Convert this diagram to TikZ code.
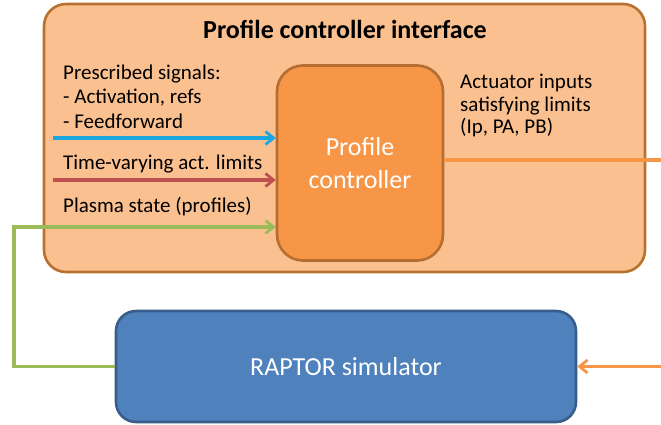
\documentclass[tikz,border=0pt]{standalone}
\usepackage{fontspec}
\setmainfont{Carlito}
\usetikzlibrary{arrows.meta}
\definecolor{ofill}{HTML}{FAC090}
\definecolor{odraw}{HTML}{B9712F}
\definecolor{cfill}{HTML}{F79646}
\definecolor{cdraw}{HTML}{B66D31}
\definecolor{rfill}{HTML}{4F81BD}
\definecolor{rdraw}{HTML}{385D8A}
\definecolor{sigblue}{HTML}{1BA6E0}
\definecolor{sigred}{HTML}{C0504D}
\definecolor{siggreen}{HTML}{9BBB59}
\definecolor{sigorange}{HTML}{F79646}
\begin{document}
\begin{tikzpicture}[x=1pt,y=-1pt,
  box/.style={draw, line width=2.6pt, rounded corners=22pt, inner sep=0pt},
  lbl/.style={anchor=west, inner sep=0pt, align=left, text=black, font=\fontsize{21}{24.5}\selectfont},
  wire/.style={line width=3.2pt},
  tip/.style={-{Straight Barb[length=8pt,width=13pt,line width=2.8pt]}}]
\useasboundingbox (0,0) rectangle (661,424);
\node[box, fill=ofill, draw=odraw, minimum width=601pt, minimum height=268pt] (iface) at (344.5,138) {};
\node[font=\bfseries\fontsize{26}{30}\selectfont, inner sep=0pt] (title) at (345,29) {Profile controller interface};
\node[box, fill=cfill, draw=cdraw, rounded corners=26pt, minimum width=166pt, minimum height=195pt, text=white, align=center, font=\fontsize{26}{33}\selectfont] (ctrl) at (360,163) {Profile\\controller};
\node[box, fill=rfill, draw=rdraw, rounded corners=20pt, minimum width=460pt, minimum height=111pt, text=white, font=\fontsize{26}{30}\selectfont] (raptor) at (346,366.5) {RAPTOR simulator};
\node[lbl] (presc) at (63,96.5) {Prescribed signals:\\- Activation, refs\\- Feedforward};
\node[lbl] (lim) at (63,164) {Time-varying act. limits};
\node[lbl] (state) at (63,207) {Plasma state (profiles)};
\node[lbl, font=\fontsize{21}{22.5}\selectfont] (act) at (460,105.5) {Actuator inputs\\satisfying limits\\(Ip, PA, PB)};
\coordinate (bsrc) at (53,138);
\coordinate (rsrc) at (53,180);
\coordinate (gcorner) at (14,227);
\coordinate (oout) at (661,160);
\coordinate (oin) at (661,366.5);
\draw[wire, sigblue, tip] (bsrc) -- (ctrl.west |- bsrc);
\draw[wire, sigred, tip] (rsrc) -- (ctrl.west |- rsrc);
\draw[wire, siggreen, tip] (raptor.west) -| (gcorner) -- (ctrl.west |- gcorner);
\draw[wire, sigorange] (ctrl.east |- oout) -- (oout);
\draw[wire, sigorange, tip] (oin) -- (raptor.east);
\end{tikzpicture}
\end{document}
